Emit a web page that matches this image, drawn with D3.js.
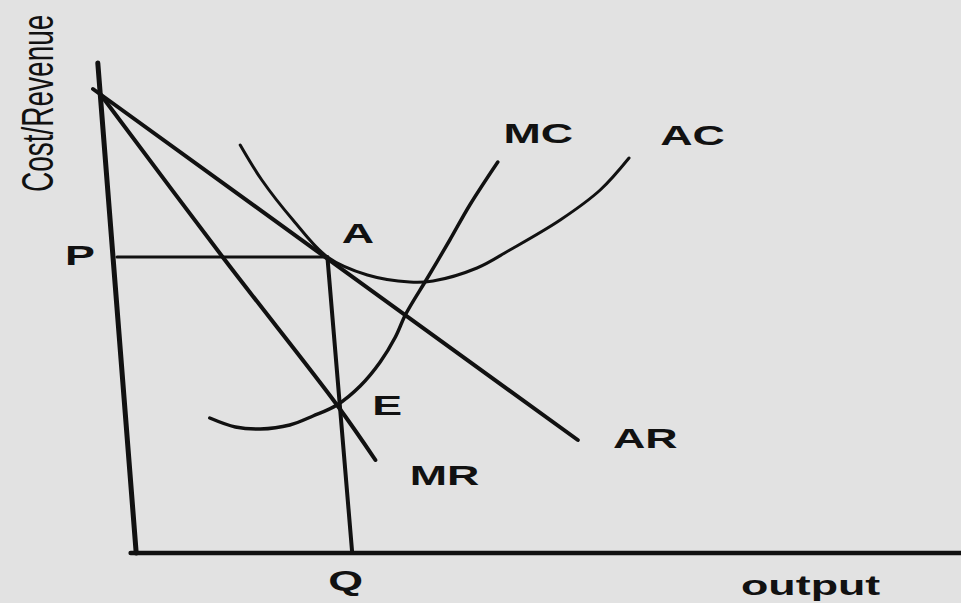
<!DOCTYPE html>
<html>
<head>
<meta charset="utf-8">
<script src="https://cdn.jsdelivr.net/npm/d3@7/dist/d3.min.js"></script>
<style>
  html, body { margin: 0; padding: 0; background: #e2e2e2; }
  svg { display: block; }
  text { font-family: "Liberation Sans", Arial, sans-serif; fill: #111; }
</style>
</head>
<body>
<svg id="chart" width="961" height="603"></svg>
<script>
// Monopoly equilibrium: output (x) against cost / revenue (y), in abstract units.

// Axes, drawn as lines in data units
const yAxisLine = [[-0.44, 9.8], [0.04, 0]];
const xAxisLine = [[-0.03, 0], [10.35, 0]];

// Average revenue (demand) and marginal revenue
const arCurve = [[-0.5, 9.28], [5.56, 2.26]];
const mrCurve = [[-0.41, 9.18], [1.13, 5.9], [2.55, 2.96], [3.03, 1.86]];

// Average cost and marginal cost
const acCurve = [
  [1.34, 8.16], [1.61, 7.46], [2.0, 6.66], [2.43, 5.92], [2.93, 5.56],
  [3.46, 5.42], [3.75, 5.44], [4.3, 5.7], [4.71, 6.06], [5.34, 6.66],
  [5.84, 7.26], [6.2, 7.9]
];
const mcCurve = [
  [0.96, 2.7], [1.28, 2.52], [1.59, 2.48], [1.96, 2.56], [2.25, 2.74],
  [2.55, 2.96], [2.84, 3.34], [3.09, 3.82], [3.28, 4.32], [3.41, 4.78],
  [3.68, 5.5], [3.96, 6.26], [4.21, 6.96], [4.56, 7.82]
];

// Price line from the axis to A, and the drop from A to quantity Q
const priceLine = [[-0.2, 5.92], [2.43, 5.92]];
const quantityLine = [[2.43, 5.92], [2.74, 0]];

// Label anchors (left end of the baseline), in data units
const labels = [
  { text: "P",      x: -0.85, y: 5.76 },
  { text: "A",      x: 2.61,  y: 6.2 },
  { text: "E",      x: 2.99,  y: 2.76 },
  { text: "MR",     x: 3.46,  y: 1.36 },
  { text: "MC",     x: 4.63,  y: 8.2 },
  { text: "AC",     x: 6.59,  y: 8.16 },
  { text: "AR",     x: 6.0,   y: 2.1 },
  { text: "Q",      x: 2.44,  y: -0.74 },
  { text: "output", x: 7.6,   y: -0.84 }
];
const yTitle = { text: "Cost/Revenue", x: -1.0, y: 7.22 };

const svg = d3.select("#chart");
const x = d3.scaleLinear().domain([0, 10]).range([133, 933]);
const y = d3.scaleLinear().domain([0, 10]).range([553, 53]);

const straight = d3.line().x(d => x(d[0])).y(d => y(d[1]));
const smooth = d3.line().x(d => x(d[0])).y(d => y(d[1])).curve(d3.curveCatmullRom.alpha(0.5));

const ink = "#111";

function draw(points, gen, width) {
  svg.append("path")
    .attr("d", gen(points))
    .attr("fill", "none")
    .attr("stroke", ink)
    .attr("stroke-width", width)
    .attr("stroke-linecap", "round")
    .attr("stroke-linejoin", "round");
}

draw(priceLine, straight, 3);
draw(quantityLine, straight, 4);
draw(arCurve, straight, 4);
draw(mrCurve, smooth, 4);
draw(acCurve, smooth, 3);
draw(mcCurve, smooth, 3.5);
draw(yAxisLine, straight, 5);
draw(xAxisLine, straight, 4.5);

// Labels are drawn wide (horizontal stretch) like the rest of the figure
const stretch = 1.6;
svg.selectAll("text.lbl")
  .data(labels)
  .join("text")
  .attr("class", "lbl")
  .attr("transform", d => `translate(${x(d.x)},${y(d.y)}) scale(${stretch},1)`)
  .attr("font-size", 28)
  .attr("font-weight", "bold")
  .text(d => d.text);

svg.append("text")
  .attr("transform", `translate(${x(yTitle.x)},${y(yTitle.y)}) scale(${stretch},1) rotate(-90)`)
  .attr("font-size", 28)
  .text(yTitle.text);
</script>
</body>
</html>
